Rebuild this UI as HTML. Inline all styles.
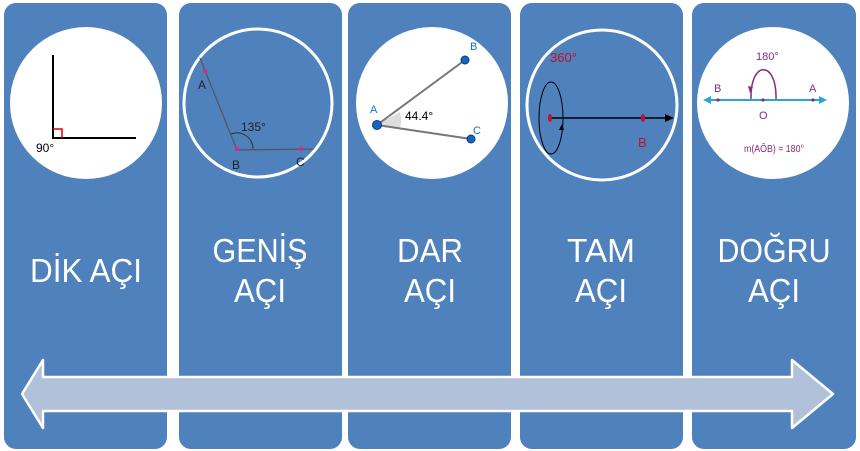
<!DOCTYPE html>
<html><head><meta charset="utf-8"><style>
html,body{margin:0;padding:0;background:#fff;}
svg{display:block;}
text{font-family:"Liberation Sans","DejaVu Sans",sans-serif;}
</style></head><body>
<svg width="860" height="451" viewBox="0 0 860 451" xmlns="http://www.w3.org/2000/svg">
<rect width="860" height="451" fill="#fff"/>
<g fill="#4f81bd">
<rect x="4" y="3" width="163" height="446" rx="12"/>
<rect x="179" y="3" width="163" height="446" rx="12"/>
<rect x="348" y="3" width="163" height="446" rx="12"/>
<rect x="520" y="3" width="163" height="446" rx="12"/>
<rect x="692" y="3" width="164" height="446" rx="12"/>
</g>
<!-- panel 1 -->
<circle cx="86" cy="103" r="76" fill="#fff"/>
<path d="M53 55 V138 H136" fill="none" stroke="#000" stroke-width="2"/>
<path d="M53 129 H62 V138" fill="none" stroke="#d00" stroke-width="1.5"/>
<text x="36" y="152" font-size="12" fill="#000">90°</text>
<!-- panel 2 -->
<circle cx="258" cy="103" r="74" fill="none" stroke="#fff" stroke-width="3"/>
<path d="M200 58 L237 150 L313 149" fill="none" stroke="#555" stroke-width="1.2"/>
<path d="M231 134 A16 16 0 0 1 253 149" fill="none" stroke="#333" stroke-width="1"/>
<circle cx="205" cy="71" r="2" fill="#e0208a"/>
<circle cx="237" cy="149" r="2" fill="#e0208a"/>
<circle cx="301" cy="149" r="2" fill="#e0208a"/>
<text x="198" y="89" font-size="12" fill="#222">A</text>
<text x="241" y="131" font-size="12" fill="#222">135°</text>
<text x="232" y="169" font-size="12" fill="#222">B</text>
<text x="296" y="166" font-size="12" fill="#222">C</text>
<!-- panel 3 -->
<circle cx="432" cy="103" r="76" fill="#fff"/>
<path d="M377 125 L400 112 A27 27 0 0 1 400 128 Z" fill="#ddd"/>
<path d="M377 125 L465 60 M377 125 L471 139" stroke="#777" stroke-width="2" fill="none"/>
<circle cx="377" cy="125" r="4.5" fill="#1565c0" stroke="#0d3a80"/>
<circle cx="465" cy="60" r="4" fill="#1565c0" stroke="#0d3a80"/>
<circle cx="471" cy="139" r="4" fill="#1565c0" stroke="#0d3a80"/>
<text x="370" y="113" font-size="11" fill="#1a6fc6">A</text>
<text x="405" y="120" font-size="12" fill="#000">44.4°</text>
<text x="473" y="134" font-size="11" fill="#1a6fc6">C</text>
<text x="470" y="50" font-size="11" fill="#1a6fc6">B</text>
<!-- panel 4 -->
<circle cx="602" cy="105" r="75" fill="none" stroke="#fff" stroke-width="3"/>
<text x="550" y="62" font-size="13" fill="#c0122c">360°</text>
<ellipse cx="551" cy="118" rx="12" ry="36" fill="none" stroke="#000" stroke-width="1"/>
<path d="M550 118 H670" stroke="#000" stroke-width="1.5"/>
<path d="M674 118 l-9 -4 v8 z" fill="#000"/>
<path d="M562 124 l-3 6 h5 z" fill="#000"/>
<ellipse cx="550" cy="118" rx="2" ry="4" fill="#c0122c"/>
<ellipse cx="643" cy="118" rx="2" ry="4" fill="#c0122c"/>
<text x="638" y="147" font-size="13" fill="#c0122c">B</text>
<!-- panel 5 -->
<ellipse cx="773" cy="103" rx="76" ry="76" fill="#fff"/>
<path d="M707 100 H822" stroke="#29a9c9" stroke-width="2"/>
<path d="M703 100 l8 -4 v8 z M827 100 l-8 -4 v8 z" fill="#29a9c9"/>
<circle cx="718" cy="100" r="1.6" fill="#8a2a7a"/>
<circle cx="763" cy="100" r="1.6" fill="#8a2a7a"/>
<circle cx="813" cy="100" r="1.6" fill="#8a2a7a"/>
<path d="M751 99 C750 60, 777 60, 776 99" fill="none" stroke="#8a2a7a" stroke-width="1.5"/>
<path d="M748 86 l2 7 l3 -6 z" fill="#8a2a7a"/>
<text x="756" y="60" font-size="11" fill="#8a2a7a">180°</text>
<text x="714" y="92" font-size="11" fill="#8a2a7a">B</text>
<text x="809" y="92" font-size="11" fill="#8a2a7a">A</text>
<text x="759" y="119" font-size="11" fill="#8a2a7a">O</text>
<text x="744" y="152" font-size="10.5" fill="#8a2a7a" textLength="60" lengthAdjust="spacingAndGlyphs">m(AÔB) = 180°</text>
<!-- labels -->
<g fill="#fff" font-size="33" text-anchor="middle">
<text x="86" y="282" textLength="112" lengthAdjust="spacingAndGlyphs">DİK AÇI</text>
<text x="260" y="262" textLength="95" lengthAdjust="spacingAndGlyphs">GENİŞ</text>
<text x="260" y="302" textLength="52" lengthAdjust="spacingAndGlyphs">AÇI</text>
<text x="430" y="262" textLength="66" lengthAdjust="spacingAndGlyphs">DAR</text>
<text x="430" y="302" textLength="52" lengthAdjust="spacingAndGlyphs">AÇI</text>
<text x="601" y="262" textLength="68" lengthAdjust="spacingAndGlyphs">TAM</text>
<text x="601" y="302" textLength="52" lengthAdjust="spacingAndGlyphs">AÇI</text>
<text x="774" y="262" textLength="113" lengthAdjust="spacingAndGlyphs">DOĞRU</text>
<text x="774" y="302" textLength="52" lengthAdjust="spacingAndGlyphs">AÇI</text>
</g>
<!-- arrow -->
<path d="M22 394 L43 360 V377 H792 V360 L833 394 L792 428 V411 H43 V428 Z" fill="#b1c1da" stroke="#fff" stroke-width="2.5" stroke-linejoin="round"/>
</svg>
</body></html>
